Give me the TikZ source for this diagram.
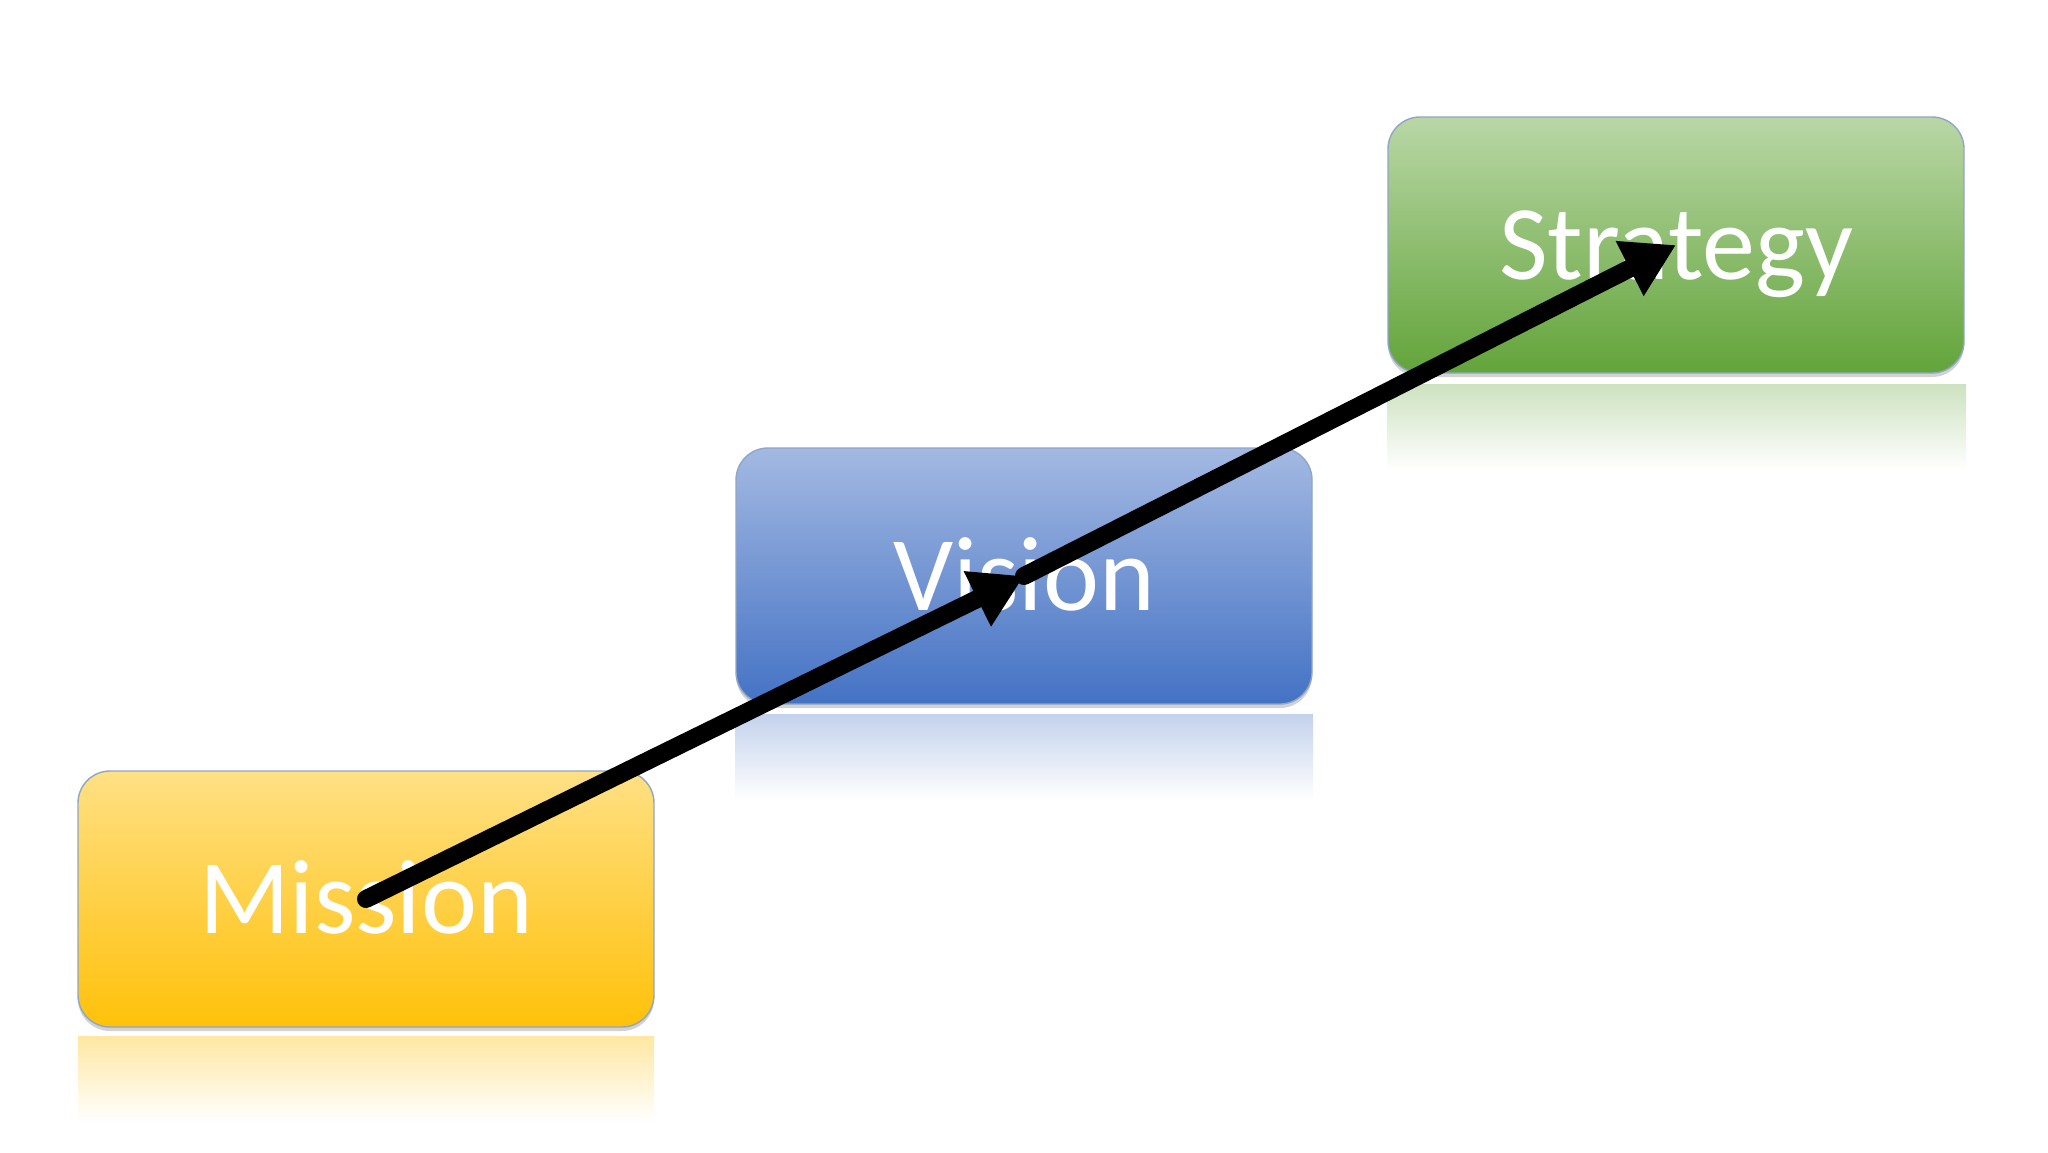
\documentclass[tikz,border=0pt]{standalone}
\usepackage{fontspec}
\setmainfont{Carlito}
\usetikzlibrary{arrows.meta,shadows}
\definecolor{mtop}{HTML}{FFE084}
\definecolor{mmid}{HTML}{FFD75E}
\definecolor{mbot}{HTML}{FFC10A}
\definecolor{vtop}{HTML}{A3B9E2}
\definecolor{vmid}{HTML}{7F9DD6}
\definecolor{vbot}{HTML}{4472C4}
\definecolor{stop}{HTML}{B9D7A6}
\definecolor{smid}{HTML}{8DBF6F}
\definecolor{sbot}{HTML}{63A43A}
\definecolor{boxedge}{HTML}{8FA6C4}
\tikzset{
  box/.style={rounded corners=16pt, minimum width=288pt, minimum height=128pt,
    draw=boxedge, line width=0.7pt, text=white, inner sep=0pt,
    font=\fontsize{53}{60}\selectfont, text height=34pt, text depth=0pt,
    drop shadow={shadow xshift=0pt, shadow yshift=-2pt, opacity=0.35}},
  refl/.style={draw=none},
  link/.style={line width=9pt, line cap=round, -{Triangle[length=26pt,width=29pt]}}
}
\begin{document}
\begin{tikzpicture}[x=0.5pt,y=-0.5pt]
\useasboundingbox[fill=white] (0,0) rectangle (2048,1152);
% reflections
\shade[refl, top color=mbot!38!white, bottom color=white] (78,1122) -- (78,1036) -- (654,1036) -- (654,1122) -- cycle;
\shade[refl, top color=vbot!32!white, bottom color=white] (735,800) -- (735,714) -- (1313,714) -- (1313,800) -- cycle;
\shade[refl, top color=sbot!32!white, bottom color=white] (1387,470) -- (1387,384) -- (1966,384) -- (1966,470) -- cycle;
% boxes
\node[box, top color=mtop, middle color=mmid, bottom color=mbot] (m) at (366,899) {Mission};
\node[box, top color=vtop, middle color=vmid, bottom color=vbot] (v) at (1024,576) {Vision};
\node[box, top color=stop, middle color=smid, bottom color=sbot] (s) at (1676,245) {Strategy};
% arrows
\draw[link] (m.center) -- (v.center);
\draw[link] (v.center) -- (s.center);
\end{tikzpicture}
\end{document}
